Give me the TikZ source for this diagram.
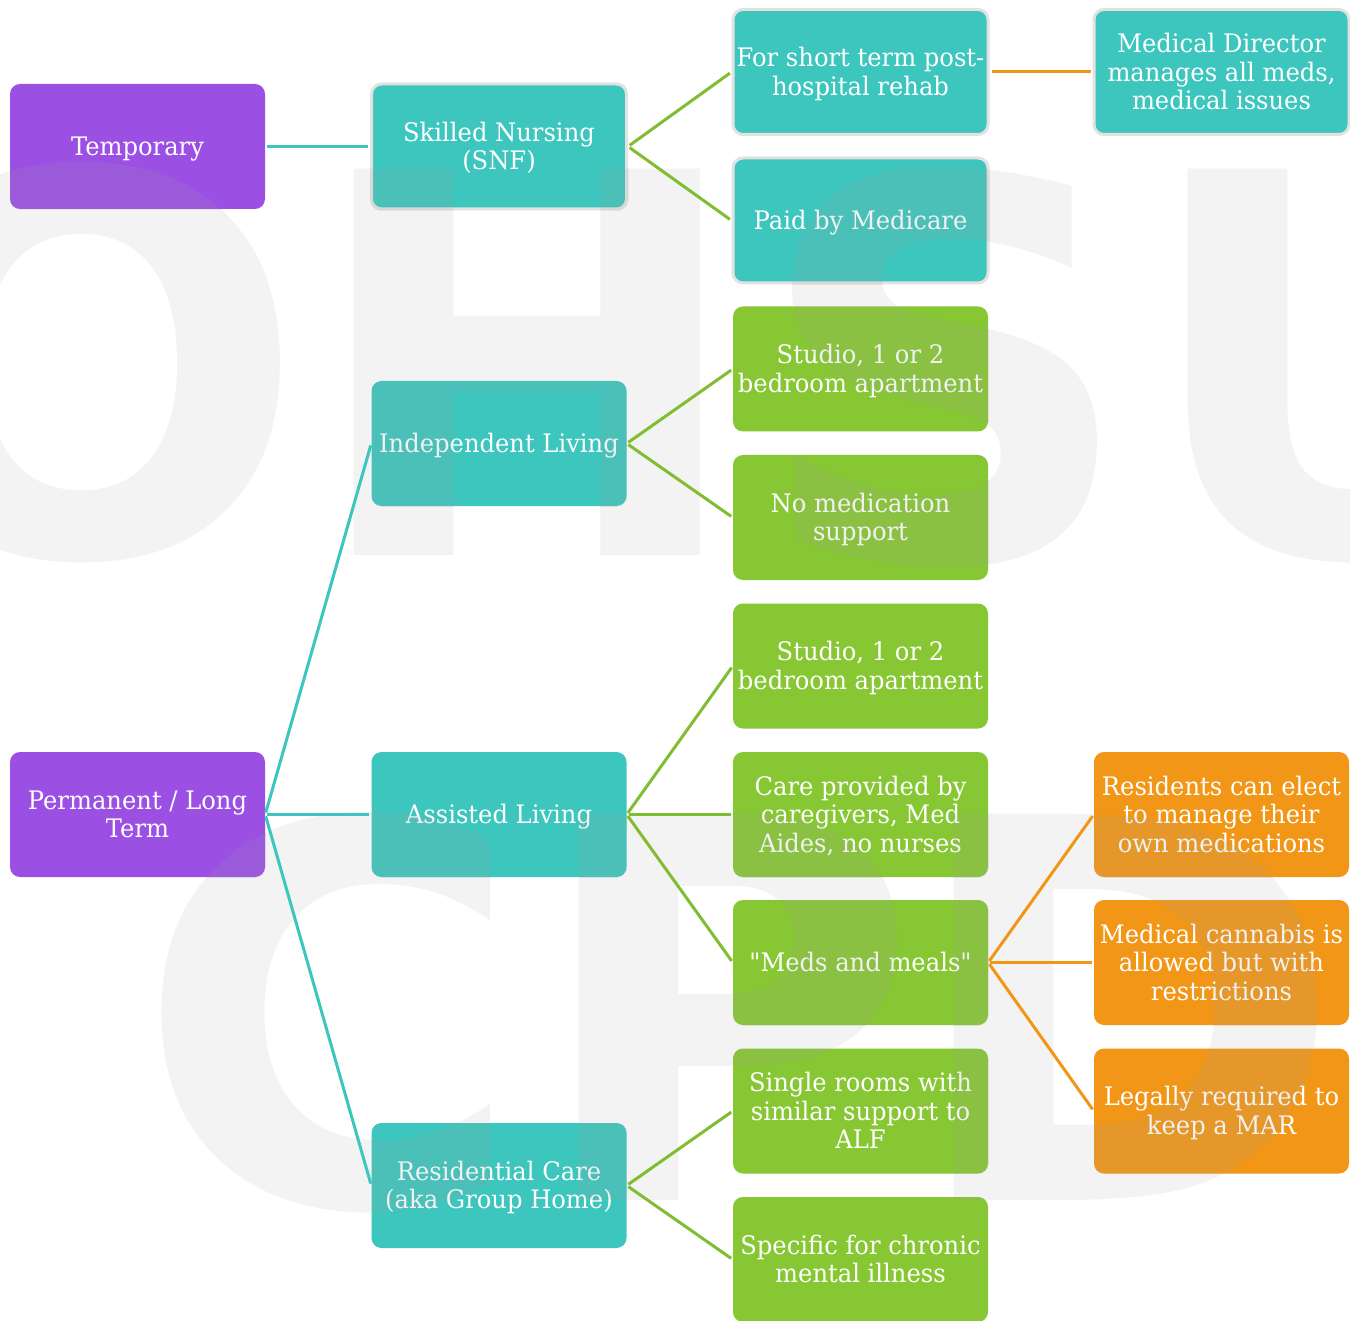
\documentclass[tikz,border=0pt]{standalone}
\usepackage{fontspec}
\setmainfont{DejaVu Serif}[FakeStretch=0.95, Ligatures=TeXOff]
\newfontfamily\wmfont{DejaVu Sans}
\definecolor{cpurple}{HTML}{9B4FE3}
\definecolor{cteal}{HTML}{3CC6BE}
\definecolor{cgreen}{HTML}{87C733}
\definecolor{corange}{HTML}{F19616}
\definecolor{cwm}{HTML}{F3F3F3}
\definecolor{cwmover}{HTML}{A0A0A0}
\definecolor{cedge}{HTML}{E2E2E2}
\tikzset{
  box/.style={rounded corners=10pt, minimum width=255pt, minimum height=125pt,
    inner sep=0pt, align=center, text=white,
    font=\fontsize{25.5}{28.5}\selectfont,
    execute at begin node={\rule{0pt}{24.6pt}},
    execute at end node={\rule[-6.5pt]{0pt}{6.5pt}}},
  ltwo/.style={execute at begin node={\rule{0pt}{53.1pt}}},
  lthree/.style={execute at begin node={\rule{0pt}{81.6pt}}},
  pbox/.style={box, fill=cpurple},
  tbox/.style={box, fill=cteal},
  gbox/.style={box, fill=cgreen},
  obox/.style={box, fill=corange},
  halo/.style={draw=cedge, line width=3pt},
  conn/.style={line width=3pt, shorten <=2pt, shorten >=2pt},
  tl/.style={conn, draw=cteal},
  gl/.style={conn, draw=cgreen!95!black},
  ol/.style={conn, draw=corange},
  wmbase/.style={inner sep=0pt, anchor=base, font=\wmfont\bfseries\fontsize{530}{530}\selectfont},
  wm/.style={wmbase, text=cwm},
  wmo/.style={wmbase, text=cwmover, text opacity=0.14}
}
\newcommand\wmletters[1]{%
  \node[#1] at (82,555) {O};
  \node[#1] at (527,555) {H};
  \node[#1] at (945,560) {S};
  \node[#1] at (1355,555) {U};
  \node[#1] at (330,1205) {C};
  \node[#1] at (725,1200) {P};
  \node[#1] at (1125,1200) {D};
}
\begin{document}
\begin{tikzpicture}[x=1pt, y=-1pt]
\useasboundingbox (0,0) rectangle (1350,1321);
\fill[white] (0,0) rectangle (1350,1321);
% watermark
\begin{scope}
\clip (0,0) rectangle (1350,1321);
\wmletters{wm}
\end{scope}
% level 1
\node[pbox] (tmp) at (137.5,146.5) {Temporary};
\node[pbox, ltwo] (perm) at (137.5,814.5) {Permanent / Long\\Term};
% level 2
\node[tbox, ltwo, halo] (snf) at (499,146.5) {Skilled Nursing\\(SNF)};
\node[tbox] (il) at (499,443.5) {Independent Living};
\node[tbox] (al) at (499,814.5) {Assisted Living};
\node[tbox, ltwo] (rc) at (499,1185.5) {Residential Care\\(aka Group Home)};
% level 3
\node[tbox, ltwo, halo] (st) at (860.5,72) {For short term post-\\hospital rehab};
\node[tbox, halo] (pm) at (860.5,220.5) {Paid by Medicare};
\node[gbox, ltwo] (s1) at (860.5,369) {Studio, 1 or 2\\bedroom apartment};
\node[gbox, ltwo] (nm) at (860.5,517.5) {No medication\\support};
\node[gbox, ltwo] (s2) at (860.5,666) {Studio, 1 or 2\\bedroom apartment};
\node[gbox, lthree] (cp) at (860.5,814.5) {Care provided by\\caregivers, Med\\Aides, no nurses};
\node[gbox] (mm) at (860.5,962.5) {"Meds and meals"};
\node[gbox, lthree] (sr) at (860.5,1111) {Single rooms with\\similar support to\\ALF};
\node[gbox, ltwo] (sc) at (860.5,1259.5) {Specific for chronic\\mental illness};
% level 4
\node[tbox, lthree, halo] (md) at (1221.5,72) {Medical Director\\manages all meds,\\medical issues};
\node[obox, lthree] (re) at (1221.5,814.5) {Residents can elect\\to manage their\\own medications};
\node[obox, lthree] (mc) at (1221.5,962.5) {Medical cannabis is\\allowed but with\\restrictions};
\node[obox, ltwo] (lr) at (1221.5,1111) {Legally required to\\keep a MAR};
% watermark seen through the boxes
\begin{scope}
\clip[rounded corners=10pt]
  (tmp.south west) rectangle (tmp.north east)
  (perm.south west) rectangle (perm.north east)
  (snf.south west) rectangle (snf.north east)
  (il.south west) rectangle (il.north east)
  (al.south west) rectangle (al.north east)
  (rc.south west) rectangle (rc.north east)
  (st.south west) rectangle (st.north east)
  (pm.south west) rectangle (pm.north east)
  (s1.south west) rectangle (s1.north east)
  (nm.south west) rectangle (nm.north east)
  (s2.south west) rectangle (s2.north east)
  (cp.south west) rectangle (cp.north east)
  (mm.south west) rectangle (mm.north east)
  (sr.south west) rectangle (sr.north east)
  (sc.south west) rectangle (sc.north east)
  (md.south west) rectangle (md.north east)
  (re.south west) rectangle (re.north east)
  (mc.south west) rectangle (mc.north east)
  (lr.south west) rectangle (lr.north east);
\wmletters{wmo}
\end{scope}
% connectors
\draw[tl] (tmp.east) -- (snf.west);
\draw[tl] (perm.east) -- (il.west);
\draw[tl] (perm.east) -- (al.west);
\draw[tl] (perm.east) -- (rc.west);
\draw[gl] (snf.east) -- (st.west);
\draw[gl] (snf.east) -- (pm.west);
\draw[gl] (il.east) -- (s1.west);
\draw[gl] (il.east) -- (nm.west);
\draw[gl] (al.east) -- (s2.west);
\draw[gl] (al.east) -- (cp.west);
\draw[gl] (al.east) -- (mm.west);
\draw[gl] (rc.east) -- (sr.west);
\draw[gl] (rc.east) -- (sc.west);
\draw[ol] (st.east) -- (md.west);
\draw[ol] (mm.east) -- (re.west);
\draw[ol] (mm.east) -- (mc.west);
\draw[ol] (mm.east) -- (lr.west);
\end{tikzpicture}
\end{document}
